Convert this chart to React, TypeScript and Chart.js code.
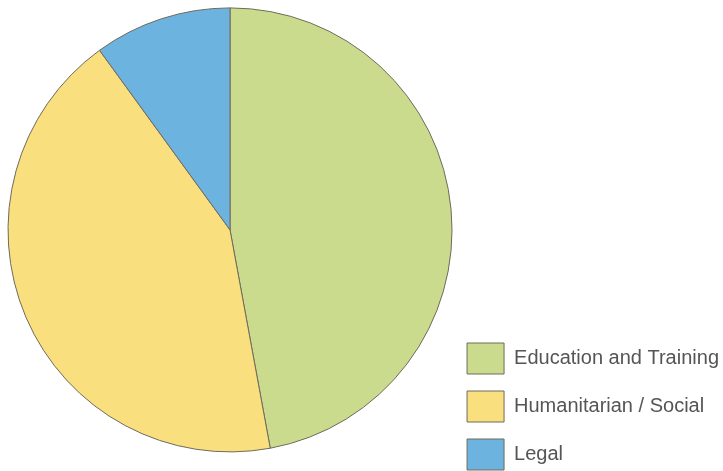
import React, { useEffect, useRef } from "react";
import { Chart, registerables } from "chart.js";

Chart.register(...registerables);

const categories = ["Education and Training", "Humanitarian / Social", "Legal"];
const values = [47.1, 42.9, 10.0];
const colors = ["#cadb8d", "#fadf7e", "#6cb3df"];

export default function App() {
  const ref = useRef<HTMLCanvasElement | null>(null);

  useEffect(() => {
    if (!ref.current) return;
    const chart = new Chart(ref.current, {
      type: "pie",
      data: {
        labels: categories,
        datasets: [
          {
            data: values,
            backgroundColor: colors,
            borderColor: "#6e6a5c",
            borderWidth: 1,
          },
        ],
      },
      options: {
        animation: false,
        responsive: false,
        devicePixelRatio: 1,
        layout: { padding: { left: 10, right: -6, top: 0, bottom: -16 } },
        plugins: {
          tooltip: { enabled: false },
          title: {
            display: true,
            position: "bottom",
            text: "",
            padding: { top: 26, bottom: 0 },
            font: { size: 1 },
          },
          legend: {
            position: "right",
            align: "end",
            labels: {
              boxWidth: 37,
              boxHeight: 31,
              padding: 17,
              color: "#555555",
              font: { family: "'Liberation Sans', Arial, sans-serif", size: 20 },
            },
          },
        },
        datasets: { pie: { radius: 222 } } as any,
      },
    });
    return () => chart.destroy();
  }, []);

  return (
    <div style={{ position: "fixed", left: 0, top: 0, width: 723, height: 471, overflow: "hidden", background: "#fff" }}>
      <canvas ref={ref} width={723} height={471} style={{ display: "block", width: 723, height: 471 }} />
    </div>
  );
}
